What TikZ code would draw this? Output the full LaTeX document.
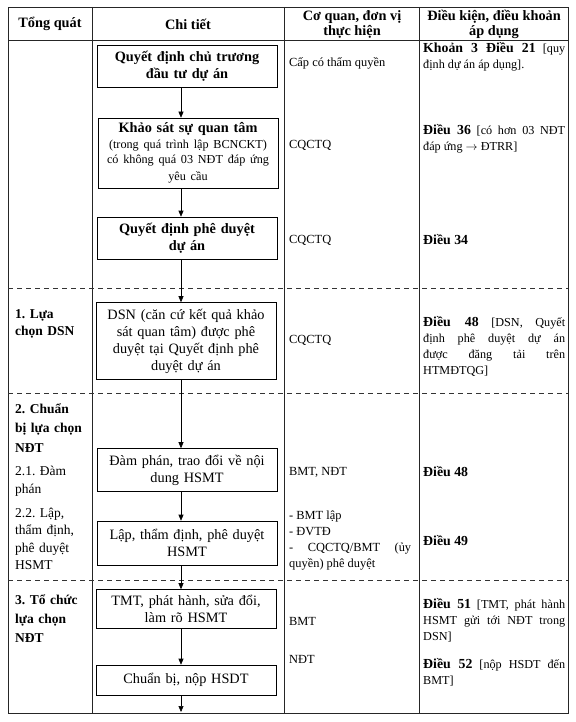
\documentclass[tikz,border=0pt]{standalone}
\usepackage{fontspec}
\setmainfont{Liberation Serif}
\usetikzlibrary{arrows.meta}

% font sizes (1pt = 1px of the picture)
\newcommand{\bigf}{\fontsize{14.3}{17}\selectfont}
\newcommand{\midf}{\fontsize{13.5}{17}\selectfont}
\newcommand{\smallf}{\fontsize{12.2}{16}\selectfont}
\newcommand{\dieu}[1]{{\fontsize{13.8}{16}\selectfont\bfseries #1}} % article number

\tikzset{
  grid/.style={line width=0.8pt, black!85},
  sep/.style={line width=0.8pt, black!80, dash pattern=on 5pt off 4pt},
  flow/.style={line width=0.6pt, -{Triangle[length=6pt,width=5pt]}},
  stepbox/.style={draw, line width=0.6pt, minimum width=180pt, text width=174pt,
    align=center, inner sep=2pt, font=\bigf},
  headtext/.style={font=\bigf\bfseries, align=center},
  phase/.style={anchor=west, text width=76pt, align=left, inner sep=0pt},
  unit/.style={anchor=west, text width=122pt, align=justify, inner sep=0pt,
    font=\fontsize{12.4}{16}\selectfont},
  rule/.style={anchor=west, text width=142pt, align=justify, inner sep=0pt, font=\smallf}
}

\begin{document}
\frenchspacing
\begin{tikzpicture}[x=1pt,y=-1pt]
\useasboundingbox (0,0) rectangle (575,722);

% table frame
\draw[grid] (8,7) rectangle (568,713);
\draw[grid] (8,40) -- (568,40);
\foreach \x in {92,284,419}
  \draw[grid] (\x,7) -- (\x,713);

% phase separators
\foreach \y in {288,393,580}
  \draw[sep] (8,\y) -- (568,\y);

% header
\node[headtext] (h1) at (50,24) {Tổng quát};
\node[headtext] (h2) at (188,24) {Chi tiết};
\node[headtext] (h3) at (352,24) {Cơ quan, đơn vị\\[-2pt]thực hiện};
\node[headtext] (h4) at (494,24) {Điều kiện, điều khoản\\[-2pt]áp dụng};

% steps
\node[stepbox, minimum height=42pt, font=\bigf\bfseries] (b1) at (187,66)
  {Quyết định chủ trương\\đầu tư dự án};
\node[stepbox, minimum height=70pt] (b2) at (188,153)
  {{\bfseries Khảo sát sự quan tâm}\\[1pt]
   {\fontsize{12.2}{15}\selectfont (trong quá trình lập BCNCKT)\\có không quá 03 NĐT đáp ứng\\yêu cầu}};
\node[stepbox, minimum height=42pt, font=\bigf\bfseries] (b3) at (187,238)
  {Quyết định phê duyệt\\dự án};
\node[stepbox, minimum height=77pt] (b4) at (186,341)
  {DSN (căn cứ kết quả khảo\\sát quan tâm) được phê\\duyệt tại Quyết định phê\\duyệt dự án};
\node[stepbox, minimum height=43pt] (b5) at (187,470)
  {Đàm phán, trao đổi về nội\\dung HSMT};
\node[stepbox, minimum height=44pt] (b6) at (187,543)
  {Lập, thẩm định, phê duyệt\\HSMT};
\node[stepbox, minimum height=39pt] (b7) at (186,609)
  {TMT, phát hành, sửa đổi,\\làm rõ HSMT};
\node[stepbox, minimum height=30pt] (b8) at (186,680)
  {Chuẩn bị, nộp HSDT};

% arrows
\coordinate (ax) at (181,0);
\coordinate (end) at (181,712);
\foreach \a/\b in {b1/b2,b2/b3,b3/b4,b4/b5,b5/b6,b6/b7,b7/b8}
  \draw[flow] (\a.south -| ax) -- (\b.north -| ax);
\draw[flow] (b8.south -| ax) -- (end);

% phases
\node[phase, font=\midf\bfseries] (p1) at (15,324) {1. Lựa\\chọn DSN};
\node[phase, font=\fontsize{13.5}{19.5}\selectfont\bfseries] (p2) at (15,428)
  {2. Chuẩn\\bị lựa chọn\\NĐT};
\node[phase, font=\fontsize{13.5}{18}\selectfont] (p21) at (15,481) {2.1. Đàm\\phán};
\node[phase, font=\fontsize{13.5}{17.3}\selectfont] (p22) at (15,539)
  {2.2. Lập,\\thẩm định,\\phê duyệt\\HSMT};
\node[phase, font=\fontsize{13.5}{19}\selectfont\bfseries] (p3) at (15,619)
  {3. Tổ chức\\lựa chọn\\NĐT};

% units
\node[unit] (u1) at (289,63) {Cấp có thẩm quyền};
\node[unit] (u2) at (289,145) {CQCTQ};
\node[unit] (u3) at (289,240) {CQCTQ};
\node[unit] (u4) at (289,340) {CQCTQ};
\node[unit] (u5) at (289,472) {BMT, NĐT};
\node[unit] (u6) at (289,541)
  {- BMT lập\\- ĐVTĐ\\- \hfill CQCTQ/BMT \hfill (ủy\\quyền) phê duyệt};
\node[unit] (u7) at (289,621) {BMT};
\node[unit] (u8) at (289,659) {NĐT};

% rules
\node[rule] (r1) at (423,57)
  {\dieu{Khoản 3 Điều 21} [quy\linebreak định dự án áp dụng].};
\node[rule] (r2) at (423,139)
  {\dieu{Điều 36} [có hơn 03 NĐT\linebreak đáp ứng $\rightarrow$ ĐTRR]};
\node[rule] (r3) at (423,240) {\dieu{Điều 34}};
\node[rule] (r4) at (423,346)
  {\dieu{Điều 48} [DSN, Quyết\linebreak định phê duyệt dự án\linebreak được đăng tải trên\linebreak HTMĐTQG]};
\node[rule] (r5) at (423,472) {\dieu{Điều 48}};
\node[rule] (r6) at (423,541) {\dieu{Điều 49}};
\node[rule] (r7) at (423,620)
  {\dieu{Điều 51} [TMT, phát hành\linebreak HSMT gửi tới NĐT trong\linebreak DSN]};
\node[rule] (r8) at (423,672)
  {\dieu{Điều 52} [nộp HSDT đến\linebreak BMT]};
\end{tikzpicture}
\end{document}
